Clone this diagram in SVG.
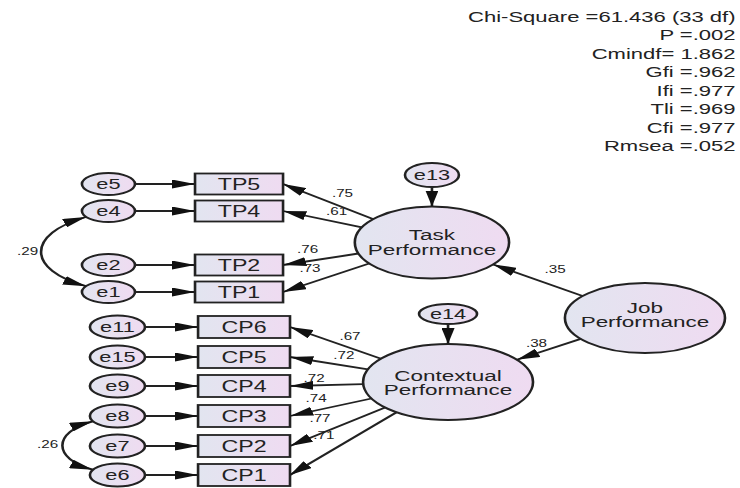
<svg xmlns="http://www.w3.org/2000/svg" width="740" height="488" viewBox="0 0 740 488">
  <style>
    text{font-family:"Liberation Sans",Arial,Helvetica,sans-serif;fill:#222}
    .ttl{font-size:15.2px;text-anchor:end}
    .nm{font-size:15px;text-anchor:middle}
    .lv{font-size:15.5px;text-anchor:middle}
    .ind{font-size:16px;text-anchor:middle}
    .cf{font-size:10.5px;text-anchor:middle}
    .shape{fill:url(#fillGrad);stroke:#222;stroke-width:1.8}
    #connectors path{fill:none;stroke:#222;stroke-width:1.8;marker-end:url(#head)}
    #connectors path.cov{marker-start:url(#head)}
  </style>
  <defs>
    <linearGradient id="fillGrad" x1="0" y1="0" x2="1" y2="0">
      <stop offset="0" stop-color="#e2e5f0"/>
      <stop offset="1" stop-color="#efdbf1"/>
    </linearGradient>
    <marker id="head" viewBox="0 0 16 9" markerWidth="16" markerHeight="9" refX="16" refY="4.5" markerUnits="userSpaceOnUse" orient="auto-start-reverse">
      <path d="M0,0L16,4.5L0,9z" fill="#111"/>
    </marker>
  </defs>
  <rect width="740" height="488" fill="#fff"/>

  <!-- the whole model is laid out on a narrower grid and widened -->
  <g transform="scale(1.45,1)">
    <g id="fit-stats">
      <text class="ttl" x="507.3" y="22">Chi-Square =61.436 (33 df)</text>
      <text class="ttl" x="507.3" y="40.5">P =.002</text>
      <text class="ttl" x="507.3" y="59">Cmindf= 1.862</text>
      <text class="ttl" x="507.3" y="77.5">Gfi =.962</text>
      <text class="ttl" x="507.3" y="96">Ifi =.977</text>
      <text class="ttl" x="507.3" y="114.5">Tli =.969</text>
      <text class="ttl" x="507.3" y="133">Cfi =.977</text>
      <text class="ttl" x="507.3" y="151.5">Rmsea =.052</text>
    </g>

    <!-- task performance indicators -->
    <g id="e5"><ellipse class="shape" cx="74.8" cy="184" rx="18.3" ry="11"/><text class="nm" x="74.8" y="189.5">e5</text></g>
    <g id="e4"><ellipse class="shape" cx="74.8" cy="211" rx="18.3" ry="11"/><text class="nm" x="74.8" y="216.5">e4</text></g>
    <g id="e2"><ellipse class="shape" cx="74.8" cy="265" rx="18.3" ry="11"/><text class="nm" x="74.8" y="270.5">e2</text></g>
    <g id="e1"><ellipse class="shape" cx="74.8" cy="292" rx="18.3" ry="11"/><text class="nm" x="74.8" y="297.5">e1</text></g>
    <g id="TP5"><rect class="shape" x="134.5" y="173.5" width="60.7" height="21"/><text class="ind" x="164.85" y="190">TP5</text></g>
    <g id="TP4"><rect class="shape" x="134.5" y="200.5" width="60.7" height="21"/><text class="ind" x="164.85" y="217">TP4</text></g>
    <g id="TP2"><rect class="shape" x="134.5" y="254.5" width="60.7" height="21"/><text class="ind" x="164.85" y="271">TP2</text></g>
    <g id="TP1"><rect class="shape" x="134.5" y="281.5" width="60.7" height="21"/><text class="ind" x="164.85" y="298">TP1</text></g>

    <!-- contextual performance indicators -->
    <g id="e11"><ellipse class="shape" cx="81" cy="327" rx="19" ry="11.5"/><text class="nm" x="81" y="332.5">e11</text></g>
    <g id="e15"><ellipse class="shape" cx="81" cy="357" rx="19" ry="11.5"/><text class="nm" x="81" y="362.5">e15</text></g>
    <g id="e9"><ellipse class="shape" cx="81" cy="386" rx="19" ry="11.5"/><text class="nm" x="81" y="391.5">e9</text></g>
    <g id="e8"><ellipse class="shape" cx="81" cy="416" rx="19" ry="11.5"/><text class="nm" x="81" y="421.5">e8</text></g>
    <g id="e7"><ellipse class="shape" cx="81" cy="446" rx="19" ry="11.5"/><text class="nm" x="81" y="451.5">e7</text></g>
    <g id="e6"><ellipse class="shape" cx="81" cy="475" rx="19" ry="11.5"/><text class="nm" x="81" y="480.5">e6</text></g>
    <g id="CP6"><rect class="shape" x="136.6" y="316" width="63.4" height="22"/><text class="ind" x="168.3" y="333">CP6</text></g>
    <g id="CP5"><rect class="shape" x="136.6" y="346" width="63.4" height="22"/><text class="ind" x="168.3" y="363">CP5</text></g>
    <g id="CP4"><rect class="shape" x="136.6" y="375" width="63.4" height="22"/><text class="ind" x="168.3" y="392">CP4</text></g>
    <g id="CP3"><rect class="shape" x="136.6" y="405" width="63.4" height="22"/><text class="ind" x="168.3" y="422">CP3</text></g>
    <g id="CP2"><rect class="shape" x="136.6" y="435" width="63.4" height="22"/><text class="ind" x="168.3" y="452">CP2</text></g>
    <g id="CP1"><rect class="shape" x="136.6" y="464" width="63.4" height="22"/><text class="ind" x="168.3" y="481">CP1</text></g>

    <!-- latent variables -->
    <g id="e13"><ellipse class="shape" cx="297.9" cy="175" rx="18.6" ry="12"/><text class="nm" x="297.9" y="180.5">e13</text></g>
    <g id="task-performance"><ellipse class="shape" cx="297.9" cy="242.5" rx="53.2" ry="36"/><text class="lv" x="297.9" y="240.5">Task</text><text class="lv" x="297.9" y="255">Performance</text></g>
    <g id="e14"><ellipse class="shape" cx="309" cy="314" rx="20" ry="10"/><text class="nm" x="309" y="319.5">e14</text></g>
    <g id="contextual-performance"><ellipse class="shape" cx="309" cy="382" rx="58.6" ry="38"/><text class="lv" x="309" y="381.5">Contextual</text><text class="lv" x="309" y="395">Performance</text></g>
    <g id="job-performance"><ellipse class="shape" cx="444.8" cy="318" rx="55.2" ry="35"/><text class="lv" x="444.8" y="313">Job</text><text class="lv" x="444.8" y="327">Performance</text></g>

    <g id="connectors">
      <path d="M93.1,184H134.5"/>
      <path d="M93.1,211H134.5"/>
      <path d="M93.1,265H134.5"/>
      <path d="M93.1,292H134.5"/>
      <path d="M100,327H136.6"/>
      <path d="M100,357H136.6"/>
      <path d="M100,386H136.6"/>
      <path d="M100,416H136.6"/>
      <path d="M100,446H136.6"/>
      <path d="M100,475H136.6"/>
      <path d="M297.9,187V206.5"/>
      <path d="M309,324V344"/>
      <path d="M257.6,219.3L195.2,184"/>
      <path d="M249.6,227.4L195.2,211"/>
      <path d="M247.2,253.5L195.2,265"/>
      <path d="M254.6,263.5L195.2,292"/>
      <path d="M262.8,358.7L200,327"/>
      <path d="M253.8,369.3L200,357"/>
      <path d="M250.5,384.2L200,386"/>
      <path d="M256.2,398.5L200,416"/>
      <path d="M265.6,407.5L200,446"/>
      <path d="M273.5,412.3L200,475"/>
      <path d="M401.8,296L340.2,264.5"/>
      <path d="M400.5,338.9L356.4,359.7"/>
      <path class="cov" d="M59.3,217C18,234 18,270 59.3,286.2"/>
      <path class="cov" d="M64.1,421.3C36,432 36,459 64.1,469.7"/>
    </g>

    <g id="coefficients">
      <text class="cf" x="236.2" y="197">.75</text>
      <text class="cf" x="232.1" y="215">.61</text>
      <text class="cf" x="212.1" y="253">.76</text>
      <text class="cf" x="213.8" y="272">.73</text>
      <text class="cf" x="241.4" y="340">.67</text>
      <text class="cf" x="237.2" y="359">.72</text>
      <text class="cf" x="216.6" y="382">.72</text>
      <text class="cf" x="218" y="402">.74</text>
      <text class="cf" x="220.7" y="422">.77</text>
      <text class="cf" x="223.4" y="439">.71</text>
      <text class="cf" x="382.8" y="273">.35</text>
      <text class="cf" x="370" y="347">.38</text>
      <text class="cf" x="19" y="255">.29</text>
      <text class="cf" x="32.8" y="448">.26</text>
    </g>
  </g>
</svg>
